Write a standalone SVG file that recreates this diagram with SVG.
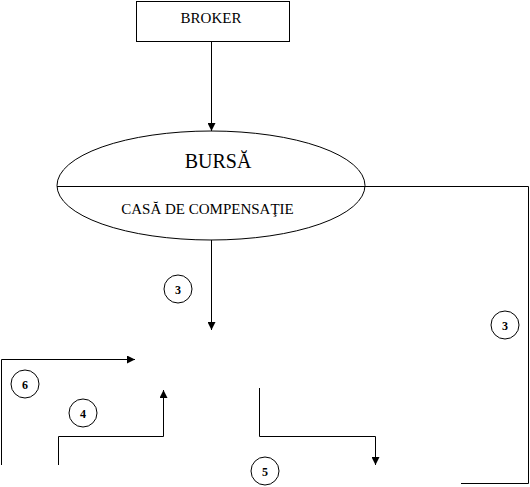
<svg xmlns="http://www.w3.org/2000/svg" width="530" height="487" viewBox="0 0 530 487">
<style>
.ln{fill:none;stroke:#000;stroke-width:1}
.t{font-family:"Liberation Serif","Times New Roman",serif;fill:#000}
.c{fill:#fff;stroke:#000;stroke-width:1}
.n{font-family:"Liberation Serif","Times New Roman",serif;font-weight:bold;font-size:12px;text-anchor:middle;fill:#000}
</style>
<defs>
<marker id="ah" markerWidth="8" markerHeight="8" refX="8" refY="4" orient="auto" markerUnits="userSpaceOnUse">
<path d="M0,0 L8,4 L0,8 Z" fill="#000"/>
</marker>
</defs>
<g id="broker">
<rect x="136.5" y="1.5" width="153" height="40" class="ln"/>
<text x="211" y="23" class="t" font-size="15" text-anchor="middle">BROKER</text>
</g>
<g id="bursa">
<ellipse cx="211" cy="185.5" rx="154" ry="54.5" class="ln"/>
<line x1="57" y1="186.5" x2="365" y2="186.5" class="ln"/>
<text x="218" y="168" class="t" font-size="20" text-anchor="middle">BURSĂ</text>
<text x="207.5" y="214" class="t" font-size="15" text-anchor="middle">CASĂ DE COMPENSAŢIE</text>
</g>
<g id="labels">
<g id="c3a"><circle cx="178" cy="289" r="14" class="c"/><text x="178" y="293.5" class="n">3</text></g>
<g id="c3b"><circle cx="505" cy="325" r="14" class="c"/><text x="505" y="329.5" class="n">3</text></g>
<g id="c6"><circle cx="25" cy="384" r="14" class="c"/><text x="25" y="388.5" class="n">6</text></g>
<g id="c4"><circle cx="83" cy="413" r="14" class="c"/><text x="83" y="417.5" class="n">4</text></g>
<g id="c5"><circle cx="265" cy="471" r="14" class="c"/><text x="265" y="475.5" class="n">5</text></g>
</g>
<g id="connectors">
<path d="M211.5,42 V131" class="ln" marker-end="url(#ah)"/>
<path d="M211.5,240 V330" class="ln" marker-end="url(#ah)"/>
<path d="M365,186.5 H528.5 V483.5 H461" class="ln"/>
<path d="M1.5,465 V359.5 H135" class="ln" marker-end="url(#ah)"/>
<path d="M58.5,465 V436.5 H163.5 V390" class="ln" marker-end="url(#ah)"/>
<path d="M259.5,388 V436.5 H375.5 V465" class="ln" marker-end="url(#ah)"/>
</g>
</svg>
